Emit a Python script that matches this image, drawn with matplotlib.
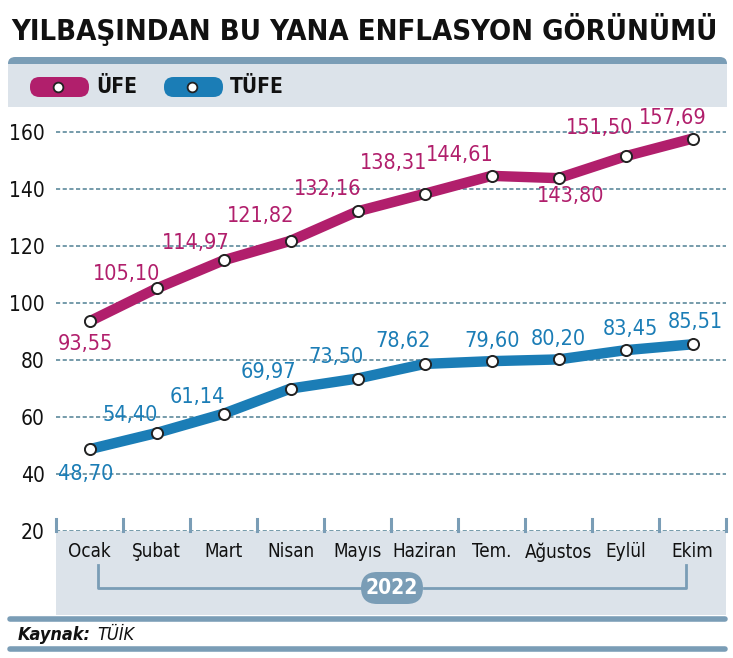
import matplotlib
matplotlib.use("Agg")
import matplotlib.pyplot as plt
from matplotlib.patches import FancyBboxPatch, Rectangle
from matplotlib.lines import Line2D

months = ["Ocak", "Şubat", "Mart", "Nisan", "Mayıs", "Haziran", "Tem.", "Ağustos", "Eylül", "Ekim"]
ufe = [93.55, 105.10, 114.97, 121.82, 132.16, 138.31, 144.61, 143.80, 151.50, 157.69]
tufe = [48.70, 54.40, 61.14, 69.97, 73.50, 78.62, 79.60, 80.20, 83.45, 85.51]
yticks = [20, 40, 60, 80, 100, 120, 140, 160]
year = "2022"

# label offsets in pixels (dx, dy) relative to each point
ufe_off = [(-4, -23), (-30, 14), (-28, 17), (-30, 25), (-30, 22), (-31, 31), (-32, 21), (12, -18), (-26, 28), (-20, 21)]
tufe_off = [(-4, -25), (-26, 18), (-26, 17), (-22, 17), (-21, 22), (-21, 23), (1, 20), (0, 20), (5, 21), (3, 22)]

W, H = 733, 658
MAG = "#B11F6C"
BLU = "#1B7DB6"
BAR = "#7A9DB6"
BAND = "#DCE3EA"
GRID = "#5E8A9C"

FONT = ["Liberation Sans Narrow", "DejaVu Sans"]
plt.rcParams["font.family"] = FONT
plt.rcParams["font.stretch"] = "condensed"


def fx(x):
    return x / W


def fy(y):
    return 1 - y / H


fig = plt.figure(figsize=(W / 100, H / 100), dpi=100)
fig.patch.set_facecolor("white")

# header bar + legend band
fig.add_artist(FancyBboxPatch((fx(8), fy(107)), fx(727) - fx(8), fy(57) - fy(107),
                              boxstyle="round,pad=0,rounding_size=0.01", fc=BAR, ec="none",
                              transform=fig.transFigure, zorder=-2))
fig.add_artist(Rectangle((fx(8), fy(107)), fx(727) - fx(8), fy(64) - fy(107),
                         fc=BAND, ec="none", transform=fig.transFigure, zorder=-1))
# lower panel under the axis
fig.add_artist(Rectangle((fx(56), fy(615)), fx(726) - fx(56), fy(531) - fy(615),
                         fc=BAND, ec="none", transform=fig.transFigure, zorder=-1))
# bottom rules
for yy in (619, 649):
    fig.add_artist(Line2D([fx(10), fx(725)], [fy(yy), fy(yy)], color=BAR, lw=4,
                          solid_capstyle="round", transform=fig.transFigure))

fig.text(fx(364), fy(30), "YILBAŞINDAN BU YANA ENFLASYON GÖRÜNÜMÜ", ha="center", va="center",
         fontsize=21, fontweight="bold", color="#111111")

# legend
for x0, col, name in ((30, MAG, "ÜFE"), (164, BLU, "TÜFE")):
    fig.add_artist(FancyBboxPatch((fx(x0), fy(97)), fx(x0 + 59) - fx(x0), fy(77) - fy(97),
                                  boxstyle="round,pad=0,rounding_size=0.013", fc=col, ec="none",
                                  transform=fig.transFigure, mutation_aspect=W / H))
    fig.add_artist(Line2D([fx(x0 + 28)], [fy(87)], marker="o", ms=7, mfc="white", mec="#222222",
                          mew=1.3, transform=fig.transFigure))
    fig.text(fx(x0 + 66), fy(87), name, ha="left", va="center", fontsize=15,
             fontweight="bold", color="#111111")

ax = fig.add_axes([fx(56), fy(531), fx(726) - fx(56), fy(107) - fy(531)])
x = list(range(len(months)))
ax.set_xlim(-0.5, len(months) - 0.5)
ax.set_ylim(20, 160 + (132 - 107) / 2.85)
for s in ax.spines.values():
    s.set_visible(False)

for v in yticks:
    ax.axhline(v, color=GRID, lw=1.2, ls=(0, (2.5, 1.5)), zorder=1)
for b in range(len(months) + 1):
    ax.plot([b - 0.5, b - 0.5], [20, 24.2], color=BAR, lw=2.2, zorder=1, clip_on=False)

for vals, col, offs in ((ufe, MAG, ufe_off), (tufe, BLU, tufe_off)):
    ax.plot(x, vals, color=col, lw=7.5, solid_capstyle="round", solid_joinstyle="round", zorder=3)
    ax.plot(x, vals, ls="none", marker="o", ms=8, mfc="white", mec="#222222", mew=1.4, zorder=4)
    for xi, v, (dx, dy) in zip(x, vals, offs):
        ax.annotate(f"{v:.2f}".replace(".", ","), (xi, v), xytext=(dx, dy), textcoords="offset pixels",
                    ha="center", va="center", fontsize=15.5, color=col, zorder=5)

ax.set_yticks(yticks)
ax.set_yticklabels([str(v) for v in yticks], fontsize=15, color="#111111")
ax.set_xticks(x)
ax.set_xticklabels(months, fontsize=13.5, color="#111111")
ax.tick_params(length=0)
ax.tick_params(axis="y", pad=8)
ax.tick_params(axis="x", pad=8)

# year bracket
fig.add_artist(Line2D([fx(98), fx(98), fx(360)], [fy(565), fy(588), fy(588)], color=BAR, lw=2,
                      transform=fig.transFigure))
fig.add_artist(Line2D([fx(424), fx(686), fx(686)], [fy(588), fy(588), fy(565)], color=BAR, lw=2,
                      transform=fig.transFigure))
fig.add_artist(FancyBboxPatch((fx(361), fy(604)), fx(423) - fx(361), fy(572) - fy(604),
                              boxstyle="round,pad=0,rounding_size=0.022", fc=BAR, ec="none",
                              transform=fig.transFigure, mutation_aspect=W / H))
fig.text(fx(392), fy(588), year, ha="center", va="center", fontsize=15, fontweight="bold", color="white")

fig.text(fx(18), fy(635), "Kaynak:", ha="left", va="center", fontsize=13, fontweight="bold",
         fontstyle="italic", color="#111111")
fig.text(fx(97), fy(635), "TÜİK", ha="left", va="center", fontsize=13, fontstyle="italic", color="#111111")

fig.savefig("out.png", dpi=100)
